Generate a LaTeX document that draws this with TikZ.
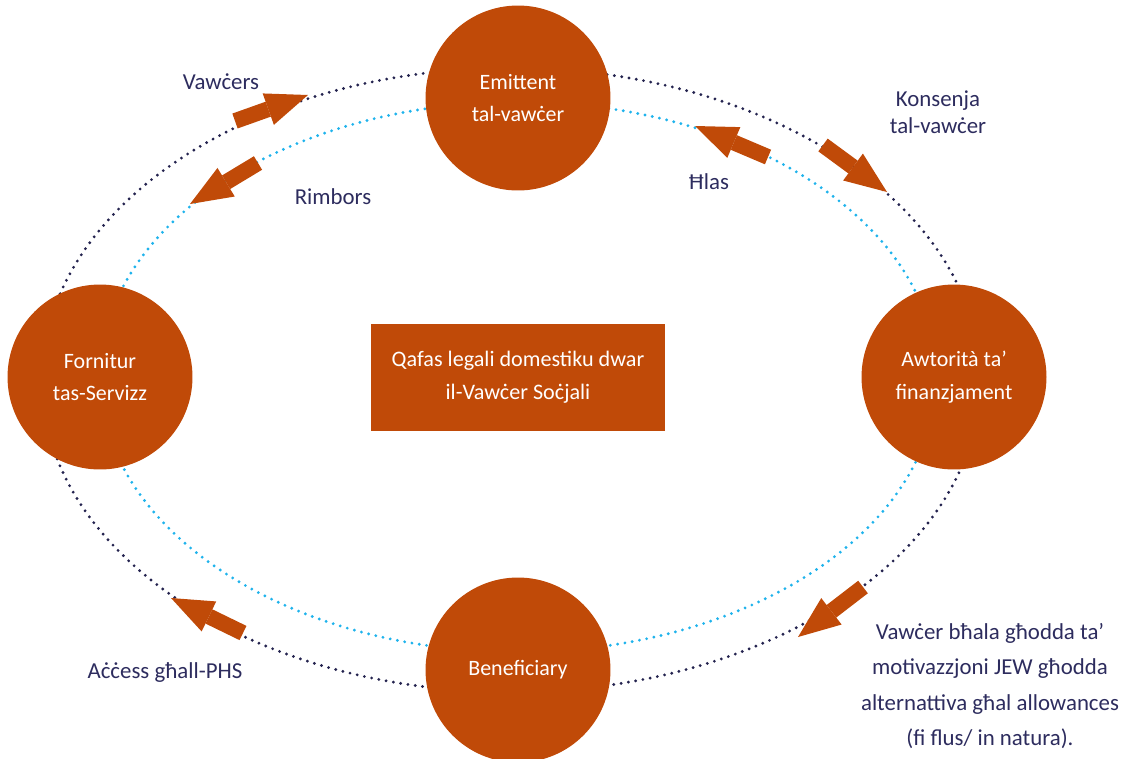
\documentclass[tikz,border=0pt]{standalone}
\usepackage{fontspec}
\setmainfont{Carlito}
\usetikzlibrary{arrows.meta}
\definecolor{rust}{HTML}{C04A08}
\definecolor{navy}{HTML}{2D2C5E}
\definecolor{dotnavy}{HTML}{24234F}
\definecolor{skyblue}{HTML}{1FB3EC}
\tikzset{
	party/.style={circle, fill=rust, minimum size=3.7cm, inner sep=0pt, text=white, align=center, font=\fontsize{12.5}{18.5}\selectfont},
	frame/.style={fill=rust, minimum width=5.88cm, minimum height=2.14cm, inner sep=0pt, text=white, align=center, font=\fontsize{12.6}{18.5}\selectfont},
	flow/.style={line width=9pt, rust, -{Triangle[length=24pt,width=19pt,line width=0pt]}},
	lbl/.style={text=navy, align=center, font=\fontsize{13}{15.5}\selectfont},
	ring/.style={line width=1.8pt, line cap=round, dash pattern=on 0pt off 4.2pt}
}

\begin{document}
\begin{tikzpicture}[x=0.02cm, y=-0.02cm]
			%%%%% START %%%%%
			\useasboundingbox (0,0) rectangle (1121,758);
			\clip (0,0) rectangle (1121,758);
			
			\draw[ring, dotnavy] (511,380) ellipse [x radius=469, y radius=312];
			\draw[ring, skyblue] (518,377) ellipse [x radius=418, y radius=275];
			
			\node[party] (emittent) at (518,98) {Emittent\\tal-vawċer};
			\node[party] (fornitur) at (100,377) {Fornitur\\tas-Servizz};
			\node[party] (awtorita) at (954,377) {Awtorità ta’\\finanzjament};
			\node[party] (beneficiary) at (518,670) {Beneficiary};
			\node[frame] (qafas) at (518,377) {Qafas legali domestiku dwar\\il-Vawċer Soċjali};
			
			\coordinate (vawcers-a) at (235,121);
			\coordinate (vawcers-b) at (308,95);
			\coordinate (rimbors-a) at (258,163);
			\coordinate (rimbors-b) at (190,204);
			\coordinate (hlas-a) at (768,157);
			\coordinate (hlas-b) at (695,126);
			\coordinate (konsenja-a) at (823,145);
			\coordinate (konsenja-b) at (887,192);
			\coordinate (bhala-a) at (863,587);
			\coordinate (bhala-b) at (798,637);
			\coordinate (access-a) at (243,633);
			\coordinate (access-b) at (171,598);
			
			\draw[flow] (vawcers-a) -- (vawcers-b);
			\draw[flow] (rimbors-a) -- (rimbors-b);
			\draw[flow] (hlas-a) -- (hlas-b);
			\draw[flow] (konsenja-a) -- (konsenja-b);
			\draw[flow] (bhala-a) -- (bhala-b);
			\draw[flow] (access-a) -- (access-b);
			
			\node[lbl] (vawcers) at (221,82) {Vawċers};
			\node[lbl] (rimbors) at (333,197) {Rimbors};
			\node[lbl] (hlas) at (709,182) {Ħlas};
			\node[lbl] (konsenja) at (938,112) {Konsenja\\tal-vawċer};
			\node[lbl] (access) at (165,673) {Aċċess għall-PHS};
			\node[lbl, font=\fontsize{13}{20}\selectfont] (bhala) at (990,686) {Vawċer bħala għodda ta’\\motivazzjoni JEW għodda\\alternattiva għal allowances\\(fi flus/ in natura).};
			
			%%%%% END %%%%%
\end{tikzpicture}
\end{document}
